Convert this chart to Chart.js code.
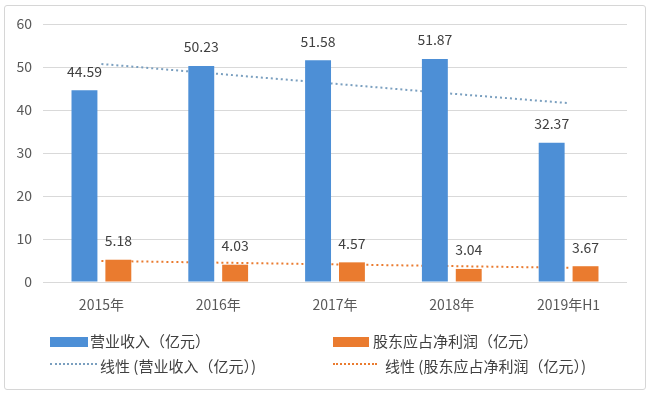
<!DOCTYPE html>
<html><head><meta charset="utf-8">
<script src="https://cdn.jsdelivr.net/npm/chart.js@4/dist/chart.umd.min.js"></script>
<style>
html,body{margin:0;padding:0;background:#fff;}
#wrap{position:relative;width:658px;height:394px;font-family:"Noto Sans CJK SC","Noto Sans",sans-serif;}
#frame{position:absolute;left:4px;top:5px;width:642px;height:385px;border:1px solid #d6d6d6;border-radius:3px;box-sizing:border-box;}
canvas{position:absolute;left:0;top:0;}
.lg{position:absolute;font-size:15px;color:#404040;white-space:nowrap;line-height:18px;}
.box{position:absolute;height:10px;}
.dot{position:absolute;height:0;border-top:2px dotted;}
</style></head><body>
<div id="wrap">
<div id="frame"></div>
<canvas id="c" width="658" height="394"></canvas>
<div class="box" style="left:50px;top:337px;width:38px;background:#4d8fd6"></div>
<div class="lg" style="left:90px;top:332px">营业收入（亿元）</div>
<div class="box" style="left:333px;top:337px;width:36px;background:#ea7b2f"></div>
<div class="lg" style="left:373px;top:332px">股东应占净利润（亿元）</div>
<div class="dot" style="left:50px;top:363px;width:47px;border-color:#7a9fbf"></div>
<div class="lg" style="left:100px;top:357px">线性 (营业收入（亿元）)</div>
<div class="dot" style="left:333px;top:363px;width:44px;border-color:#ea7b2f"></div>
<div class="lg" style="left:385px;top:357px">线性 (股东应占净利润（亿元）)</div>
</div>
<script>
const categories = ['2015年','2016年','2017年','2018年','2019年H1'];
const revenue = [44.59, 50.23, 51.58, 51.87, 32.37];
const profit = [5.18, 4.03, 4.57, 3.04, 3.67];
const revenueTrend = [50.7, 48.4, 46.1, 43.8, 41.6];
const profitTrend = [4.9, 4.5, 4.1, 3.7, 3.3];
const yMin = 0, yMax = 60, yStep = 10;

const labelPlugin = {
  id: 'valueLabels',
  afterDatasetsDraw(chart) {
    const ctx = chart.ctx;
    ctx.save();
    ctx.font = '14px "Noto Sans CJK SC","Noto Sans",sans-serif';
    ctx.fillStyle = '#404040';
    ctx.textAlign = 'center';
    ctx.textBaseline = 'middle';
    chart.data.datasets.forEach((ds, di) => {
      if (ds.type !== 'bar') return;
      const meta = chart.getDatasetMeta(di);
      meta.data.forEach((el, i) => {
        ctx.fillText(ds.data[i].toFixed(2), el.x, el.y - 19);
      });
    });
    ctx.restore();
  }
};

new Chart(document.getElementById('c'), {
  data: {
    labels: categories,
    datasets: [
      {type:'bar', label:'营业收入（亿元）', data: revenue, backgroundColor:'#4d8fd6', order:1,
       categoryPercentage:0.58, barPercentage:0.765},
      {type:'bar', label:'股东应占净利润（亿元）', data: profit, backgroundColor:'#ea7b2f', order:1,
       categoryPercentage:0.58, barPercentage:0.765},
      {type:'line', label:'线性 (营业收入（亿元）)', data: revenueTrend, borderColor:'#7a9fbf',
       borderDash:[2,3], borderWidth:2, pointRadius:0, fill:false, order:2},
      {type:'line', label:'线性 (股东应占净利润（亿元）)', data: profitTrend, borderColor:'#ea7b2f',
       borderDash:[2,3], borderWidth:2, pointRadius:0, fill:false, order:2}
    ]
  },
  options: {
    responsive:false, animation:false,
    layout:{padding:{left:0,right:31,top:24,bottom:82}},
    plugins:{legend:{display:false}, tooltip:{enabled:false}},
    scales:{
      x:{grid:{display:false}, border:{display:false},
         ticks:{color:'#595959', font:{size:14, family:'"Noto Sans CJK SC","Noto Sans",sans-serif'}, padding:6},
         afterFit(s){ s.height = 30; }},
      y:{min:yMin, max:yMax, ticks:{stepSize:yStep, color:'#595959', padding:11,
         font:{size:14, family:'"Noto Sans CJK SC","Noto Sans",sans-serif'}},
         grid:{color:'#d9d9d9', drawTicks:false}, border:{display:false},
         afterFit(s){ s.width = 43; }}
    }
  },
  plugins:[labelPlugin]
});
</script>
</body></html>
